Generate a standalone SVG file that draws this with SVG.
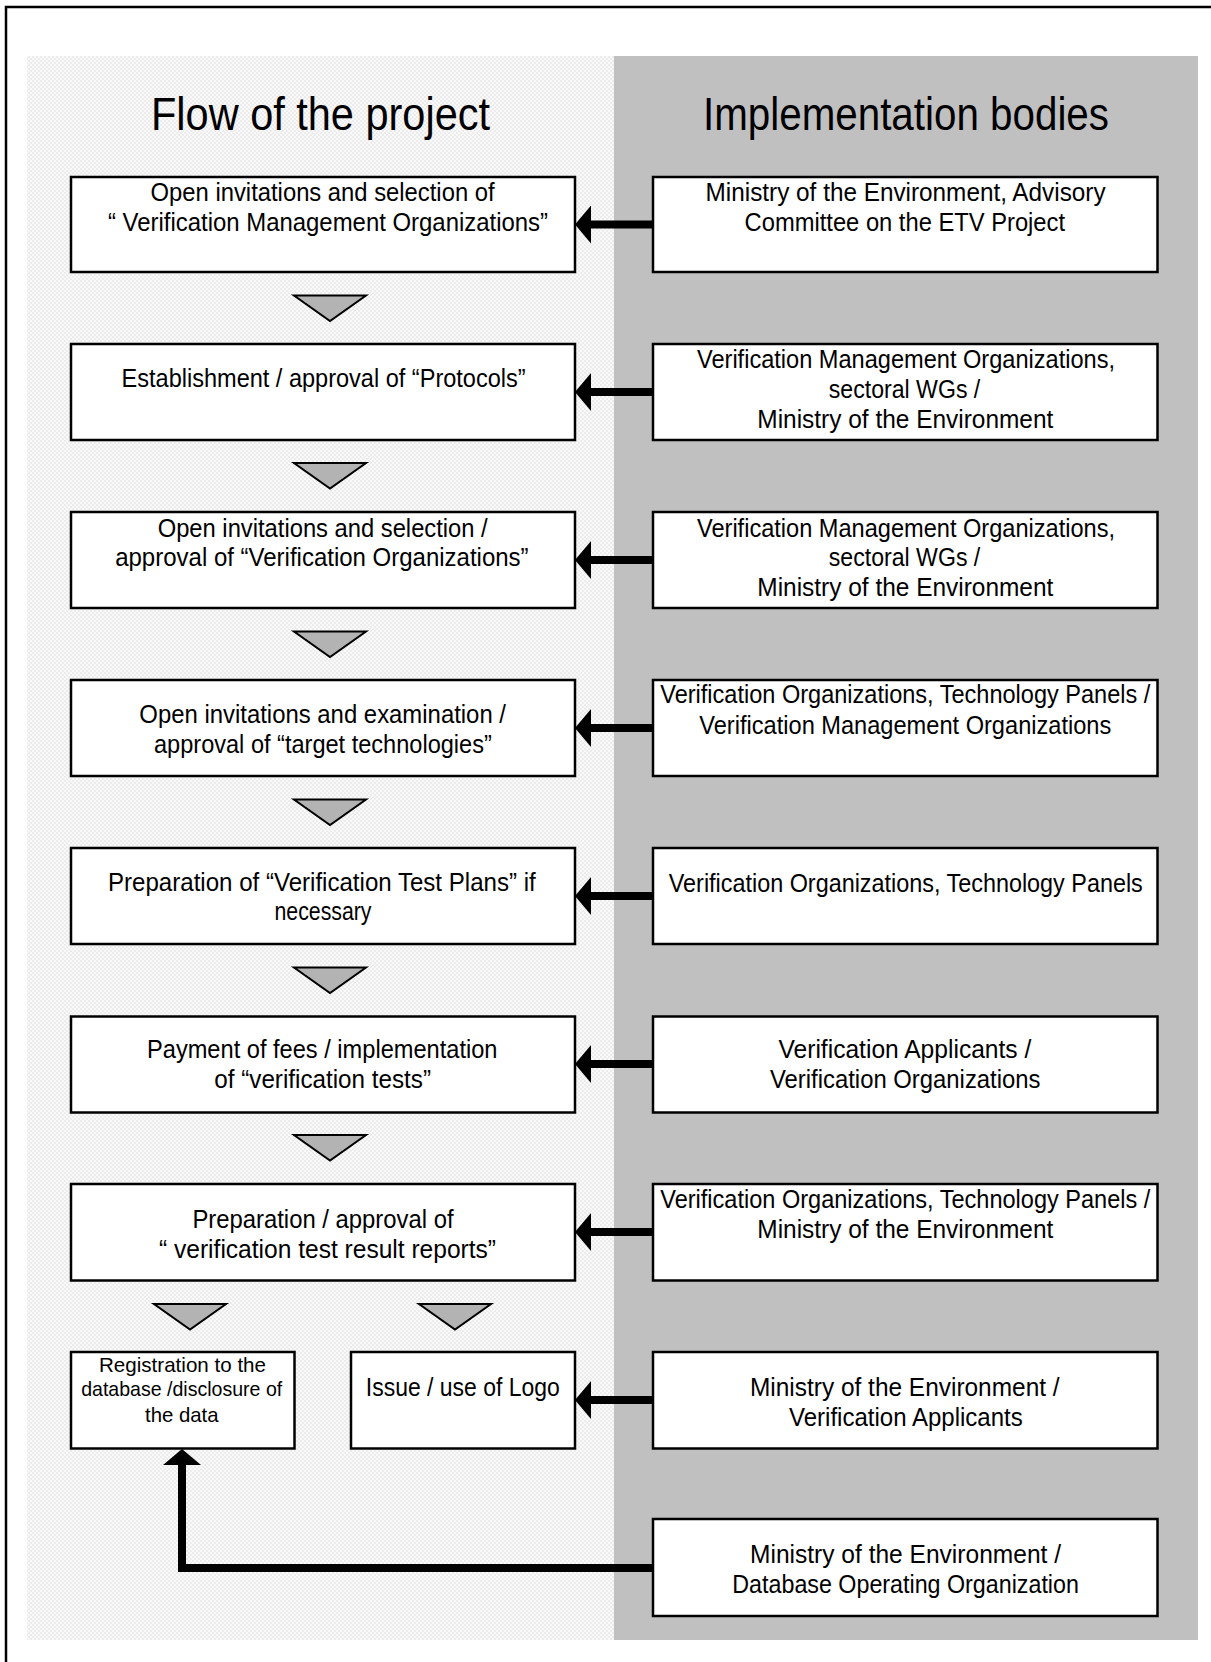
<svg xmlns="http://www.w3.org/2000/svg" xmlns:xlink="http://www.w3.org/1999/xlink" width="1211" height="1662" viewBox="0 0 1211 1662">
<style>
  .box { fill: #ffffff; stroke: #000000; stroke-width: 2.5; }
  .t { font-family: "Liberation Sans Narrow", "Liberation Sans", Arial, sans-serif; font-size: 25px; fill: #000000; }
  .ts { font-family: "Liberation Sans Narrow", "Liberation Sans", Arial, sans-serif; font-size: 21px; fill: #000000; }
  .title { font-family: "Liberation Sans Narrow", "Liberation Sans", Arial, sans-serif; font-size: 47px; fill: #000000; }
  .conn { fill: none; stroke: #000000; stroke-width: 8; }
  .tri { fill: #b3b3b3; stroke: #000000; stroke-width: 2; stroke-linejoin: miter; }
</style>
<defs>
  <pattern id="checker" width="4" height="4" patternUnits="userSpaceOnUse">
    <rect width="4" height="4" fill="#f9f9f9"/>
    <rect width="2" height="2" fill="#ececec"/>
    <rect x="2" y="2" width="2" height="2" fill="#ececec"/>
  </pattern>
  <marker id="head" viewBox="0 0 16 38" refX="0" refY="19" markerWidth="16" markerHeight="38" markerUnits="userSpaceOnUse" orient="auto">
    <path d="M0,0 L16,19 L0,38 Z" fill="#000000"/>
  </marker>
  <polygon id="tri" points="-36,0 36,0 0,25.5"/>
</defs>

<!-- background -->
<rect x="0" y="0" width="1211" height="1662" fill="#ffffff"/>
<path d="M6,1662 V7 H1211" fill="none" stroke="#000000" stroke-width="2.5"/>
<rect x="27" y="56" width="587" height="1584" fill="url(#checker)"/>
<rect x="614" y="56" width="584" height="1584" fill="#c0c0c0"/>

<text class="title" x="151" y="130" textLength="339" lengthAdjust="spacingAndGlyphs">Flow of the project</text>
<text class="title" x="703" y="130" textLength="406" lengthAdjust="spacingAndGlyphs">Implementation bodies</text>

<!-- connectors -->
<g id="connectors">
  <path class="conn" d="M653,224.5 H591" marker-end="url(#head)"/>
  <path class="conn" d="M653,392 H591" marker-end="url(#head)"/>
  <path class="conn" d="M653,560 H591" marker-end="url(#head)"/>
  <path class="conn" d="M653,728 H591" marker-end="url(#head)"/>
  <path class="conn" d="M653,896 H591" marker-end="url(#head)"/>
  <path class="conn" d="M653,1064 H591" marker-end="url(#head)"/>
  <path class="conn" d="M653,1232 H591" marker-end="url(#head)"/>
  <path class="conn" d="M653,1400 H591" marker-end="url(#head)"/>
  <path class="conn" d="M653,1568 H182 V1465" marker-end="url(#head)"/>
  <use xlink:href="#tri" class="tri" x="330" y="295.5"/>
  <use xlink:href="#tri" class="tri" x="330" y="463"/>
  <use xlink:href="#tri" class="tri" x="330" y="631.5"/>
  <use xlink:href="#tri" class="tri" x="330" y="799.5"/>
  <use xlink:href="#tri" class="tri" x="330" y="967.5"/>
  <use xlink:href="#tri" class="tri" x="330" y="1135"/>
  <use xlink:href="#tri" class="tri" x="190" y="1304"/>
  <use xlink:href="#tri" class="tri" x="455" y="1304"/>
</g>

<!-- left column nodes -->
<g id="flow1">
  <rect class="box" x="71" y="177" width="504" height="95"/>
  <text class="t" x="150.6" y="200.7" textLength="344" lengthAdjust="spacingAndGlyphs">Open invitations and selection of</text>
  <text class="t" x="108" y="231" textLength="440" lengthAdjust="spacingAndGlyphs">“ Verification Management Organizations”</text>
</g>
<g id="flow2">
  <rect class="box" x="71" y="344" width="504" height="96"/>
  <text class="t" x="121.6" y="386.7" textLength="404" lengthAdjust="spacingAndGlyphs">Establishment / approval of “Protocols”</text>
</g>
<g id="flow3">
  <rect class="box" x="71" y="512" width="504" height="96"/>
  <text class="t" x="157.7" y="536.7" textLength="330" lengthAdjust="spacingAndGlyphs">Open invitations and selection /</text>
  <text class="t" x="115.2" y="566" textLength="413.4" lengthAdjust="spacingAndGlyphs">approval of “Verification Organizations”</text>
</g>
<g id="flow4">
  <rect class="box" x="71" y="680" width="504" height="96"/>
  <text class="t" x="139.3" y="723.3" textLength="366.7" lengthAdjust="spacingAndGlyphs">Open invitations and examination /</text>
  <text class="t" x="154" y="753.3" textLength="337.8" lengthAdjust="spacingAndGlyphs">approval of “target technologies”</text>
</g>
<g id="flow5">
  <rect class="box" x="71" y="848" width="504" height="96"/>
  <text class="t" x="108" y="890.7" textLength="427.7" lengthAdjust="spacingAndGlyphs">Preparation of “Verification Test Plans” if</text>
  <text class="t" x="274.5" y="920" textLength="97" lengthAdjust="spacingAndGlyphs">necessary</text>
</g>
<g id="flow6">
  <rect class="box" x="71" y="1016.5" width="504" height="96"/>
  <text class="t" x="147" y="1058.3" textLength="350.5" lengthAdjust="spacingAndGlyphs">Payment of fees / implementation</text>
  <text class="t" x="214.3" y="1088.3" textLength="216.7" lengthAdjust="spacingAndGlyphs">of “verification tests”</text>
</g>
<g id="flow7">
  <rect class="box" x="71" y="1184" width="504" height="96.5"/>
  <text class="t" x="192.4" y="1228.3" textLength="261.2" lengthAdjust="spacingAndGlyphs">Preparation / approval of</text>
  <text class="t" x="159" y="1257.7" textLength="337" lengthAdjust="spacingAndGlyphs">“ verification test result reports”</text>
</g>
<g id="flow8a">
  <rect class="box" x="71" y="1352" width="223.5" height="96.5"/>
  <text class="ts" x="99" y="1371.7" textLength="167" lengthAdjust="spacingAndGlyphs">Registration to the</text>
  <text class="ts" x="81.2" y="1396" textLength="201" lengthAdjust="spacingAndGlyphs">database /disclosure of</text>
  <text class="ts" x="145" y="1421.7" textLength="73.6" lengthAdjust="spacingAndGlyphs">the data</text>
</g>
<g id="flow8b">
  <rect class="box" x="351" y="1352" width="224" height="96.5"/>
  <text class="t" x="365.8" y="1395.7" textLength="194" lengthAdjust="spacingAndGlyphs">Issue / use of Logo</text>
</g>

<!-- right column nodes -->
<g id="body1">
  <rect class="box" x="653" y="177" width="504.5" height="95"/>
  <text class="t" x="705.6" y="200.5" textLength="400" lengthAdjust="spacingAndGlyphs">Ministry of the Environment, Advisory</text>
  <text class="t" x="744.6" y="231" textLength="320.4" lengthAdjust="spacingAndGlyphs">Committee on the ETV Project</text>
</g>
<g id="body2">
  <rect class="box" x="653" y="344" width="504.5" height="96"/>
  <text class="t" x="697" y="368.3" textLength="418" lengthAdjust="spacingAndGlyphs">Verification Management Organizations,</text>
  <text class="t" x="828.8" y="397.7" textLength="151.5" lengthAdjust="spacingAndGlyphs">sectoral WGs /</text>
  <text class="t" x="757.3" y="428.3" textLength="296" lengthAdjust="spacingAndGlyphs">Ministry of the Environment</text>
</g>
<g id="body3">
  <rect class="box" x="653" y="512" width="504.5" height="96"/>
  <text class="t" x="697" y="536.7" textLength="418" lengthAdjust="spacingAndGlyphs">Verification Management Organizations,</text>
  <text class="t" x="828.8" y="566" textLength="151.5" lengthAdjust="spacingAndGlyphs">sectoral WGs /</text>
  <text class="t" x="757.3" y="596" textLength="296" lengthAdjust="spacingAndGlyphs">Ministry of the Environment</text>
</g>
<g id="body4">
  <rect class="box" x="653" y="680" width="504.5" height="96"/>
  <text class="t" x="660.3" y="703.3" textLength="490" lengthAdjust="spacingAndGlyphs">Verification Organizations, Technology Panels /</text>
  <text class="t" x="699.3" y="734" textLength="412" lengthAdjust="spacingAndGlyphs">Verification Management Organizations</text>
</g>
<g id="body5">
  <rect class="box" x="653" y="848" width="504.5" height="96"/>
  <text class="t" x="668.8" y="892.3" textLength="474" lengthAdjust="spacingAndGlyphs">Verification Organizations, Technology Panels</text>
</g>
<g id="body6">
  <rect class="box" x="653" y="1016.5" width="504.5" height="96"/>
  <text class="t" x="778.5" y="1058.3" textLength="252.8" lengthAdjust="spacingAndGlyphs">Verification Applicants /</text>
  <text class="t" x="770" y="1088.3" textLength="270.5" lengthAdjust="spacingAndGlyphs">Verification Organizations</text>
</g>
<g id="body7">
  <rect class="box" x="653" y="1184" width="504.5" height="96.5"/>
  <text class="t" x="660.3" y="1208.3" textLength="490" lengthAdjust="spacingAndGlyphs">Verification Organizations, Technology Panels /</text>
  <text class="t" x="757.3" y="1238.3" textLength="296" lengthAdjust="spacingAndGlyphs">Ministry of the Environment</text>
</g>
<g id="body8">
  <rect class="box" x="653" y="1352" width="504.5" height="96.5"/>
  <text class="t" x="750" y="1395.7" textLength="309.6" lengthAdjust="spacingAndGlyphs">Ministry of the Environment /</text>
  <text class="t" x="789" y="1425.7" textLength="233.8" lengthAdjust="spacingAndGlyphs">Verification Applicants</text>
</g>
<g id="body9">
  <rect class="box" x="653" y="1519" width="504.5" height="97"/>
  <text class="t" x="750" y="1563.3" textLength="311" lengthAdjust="spacingAndGlyphs">Ministry of the Environment /</text>
  <text class="t" x="732.3" y="1593.3" textLength="346.6" lengthAdjust="spacingAndGlyphs">Database Operating Organization</text>
</g>
</svg>
